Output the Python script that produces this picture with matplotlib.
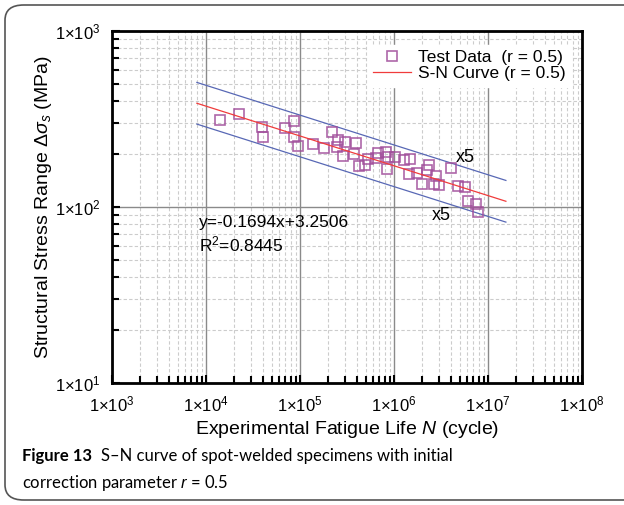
import numpy as np
import matplotlib.pyplot as plt
from matplotlib.ticker import FuncFormatter, LogLocator, NullFormatter
from matplotlib.patches import FancyBboxPatch

plt.rcParams['font.family'] = ['Liberation Sans', 'DejaVu Sans']
plt.rcParams['mathtext.fontset'] = 'custom'
plt.rcParams['mathtext.rm'] = 'Liberation Sans'
plt.rcParams['mathtext.it'] = 'Liberation Sans:italic'

# test data (cycles, MPa)
life = [14100, 22400, 39400, 40400, 69200, 86300, 86300, 95300, 137000, 180000,
        219000, 253000, 247000, 301000, 287000, 375000, 394000, 425000, 491000, 529000,
        644000, 676000, 822000, 863000, 843000, 1.03e6, 1.28e6, 1.48e6, 1.44e6, 1.76e6,
        1.99e6, 2.36e6, 2.24e6, 2.80e6, 2.67e6, 3.01e6, 4.04e6, 4.80e6, 5.69e6, 6.12e6,
        7.45e6, 7.83e6]
stress = [312, 337, 285, 250, 281, 308, 250, 222, 228, 216,
          267, 240, 219, 234, 195, 200, 231, 171, 173, 187,
          190, 203, 205, 192, 164, 192, 185, 187, 154, 156,
          135, 173, 162, 150, 135, 133, 167, 132, 130, 108,
          104, 93.8]

# fitted curve log10(S) = a*log10(N) + b, band = life x5
a = -0.1694
b = 3.2506
n_range = [8.0e3, 1.55e7]
band = 5

fig = plt.figure(figsize=(6.24, 5.05), dpi=100)
ax = fig.add_axes([112/624, 1-383/505, 470/624, 352/505])

ax.set_xscale('log')
ax.set_yscale('log')
ax.set_xlim(1e3, 1e8)
ax.set_ylim(1e1, 1e3)

ax.grid(True, which='minor', color='#cccccc', ls='--', lw=0.8, dashes=(3, 2))
ax.grid(True, which='major', color='#8a8a8a', ls='-', lw=1.0)
ax.set_axisbelow(True)

lx = np.log10(np.array(n_range))
nn = 10**np.linspace(lx[0], lx[1], 50)
fit = 10**(a*np.log10(nn) + b)
up = 10**(a*(np.log10(nn) - np.log10(band)) + b)
lo = 10**(a*(np.log10(nn) + np.log10(band)) + b)
ax.plot(nn, up, color='#5868b5', lw=0.9)
ax.plot(nn, lo, color='#5868b5', lw=0.9)

ax.plot(life, stress, ls='none', marker='s', ms=6.5, mfc='none', mec='#a04c9a',
        mew=1.2, alpha=0.85, label='Test Data  (r = 0.5)')
ax.plot(nn, fit, color='#f03c3c', lw=0.9, label='S-N Curve (r = 0.5)')

fmt = FuncFormatter(lambda v, p: r'1×10$^{%d}$' % round(np.log10(v)))
ax.xaxis.set_major_formatter(fmt)
ax.yaxis.set_major_formatter(fmt)
ax.xaxis.set_minor_formatter(NullFormatter())
ax.yaxis.set_minor_formatter(NullFormatter())
ax.xaxis.set_minor_locator(LogLocator(base=10, subs=np.arange(2, 10), numticks=20))
ax.yaxis.set_minor_locator(LogLocator(base=10, subs=np.arange(2, 10), numticks=20))
ax.tick_params(which='both', direction='in', top=False, right=False, width=1.5, labelsize=12)
ax.tick_params(which='major', length=6, pad=8)
ax.tick_params(which='minor', length=5)
for s in ax.spines.values():
    s.set_linewidth(2)

ax.set_xlabel(r'Experimental Fatigue Life $\mathit{N}$ (cycle)', fontsize=14)
ax.set_ylabel(r'Structural Stress Range $\mathit{Δσ}_{s}$ (MPa)', fontsize=14)
ax.xaxis.set_label_coords(0.5, -36/352)
ax.yaxis.set_label_coords(-58/470, 0.5)

ax.text(5.7e6, 192, 'x5', fontsize=13, ha='center', va='center')
ax.text(3.16e6, 89, 'x5', fontsize=13, ha='center', va='center')
ax.text(8.4e3, 82, 'y=-0.1694x+3.2506', fontsize=12.5, ha='left', va='center')
ax.text(8.4e3, 61, r'R$^{2}$=0.8445', fontsize=12.5, ha='left', va='center')

leg = ax.legend(loc='upper right', bbox_to_anchor=(0.995, 0.985), frameon=True, fontsize=12.5,
                handlelength=2.2, handletextpad=0.4, borderpad=0.3, labelspacing=0.05,
                fancybox=False, edgecolor='white', framealpha=1)

cap_y1 = 1 - 456/505
cap_y2 = 1 - 483/505
t1 = fig.text(22/624, cap_y1, 'Figure 13', fontsize=12, fontweight='bold',
              family='Lato', va='center')
fig.canvas.draw()
x_end = t1.get_window_extent().x1 / fig.bbox.width
fig.text(x_end + 9/624, cap_y1, 'S–N curve of spot-welded specimens with initial', fontsize=12,
         family='Lato', va='center')
fig.text(22/624, cap_y2, r'correction parameter $\mathit{r}$ = 0.5', fontsize=12,
         family='Lato', va='center')

frame = FancyBboxPatch((5/624, 1-500/505), 640/624, 495/505, boxstyle='round,pad=0,rounding_size=0.03',
                       transform=fig.transFigure, fill=False, ec='#555555', lw=1.2, clip_on=False)
fig.patches.append(frame)

fig.savefig('out.png', dpi=100)
